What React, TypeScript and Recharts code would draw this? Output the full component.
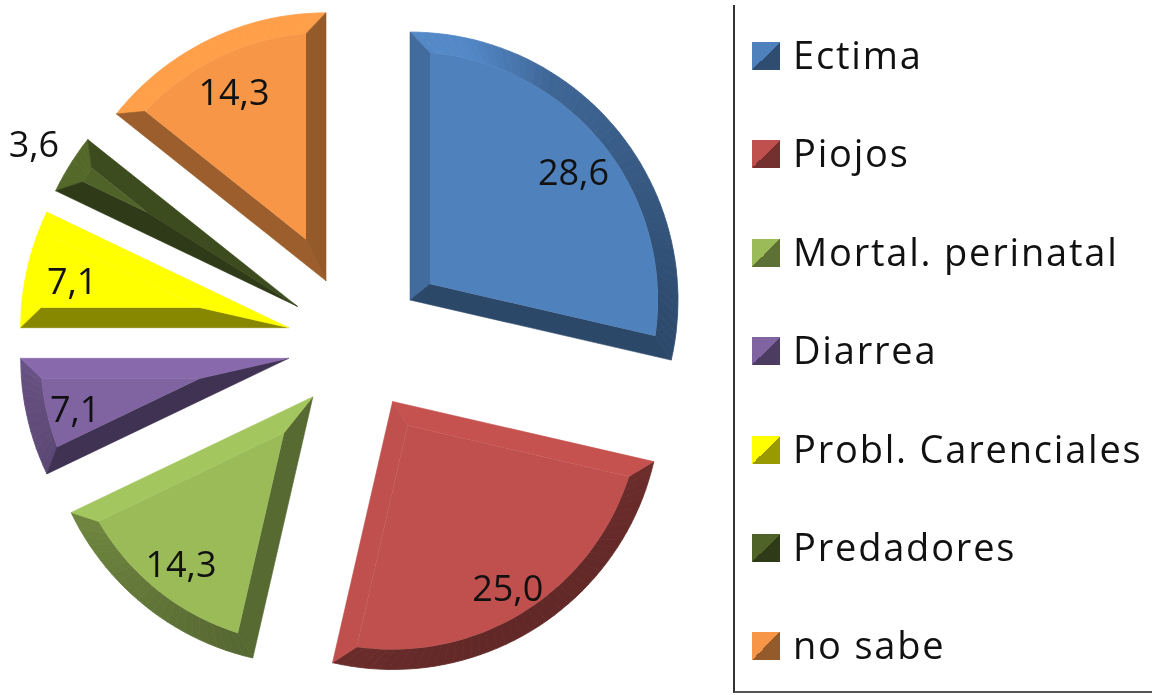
import React from 'react';
import { Legend, Pie, PieChart } from 'recharts';

const categories = ['Ectima', 'Piojos', 'Mortal. perinatal', 'Diarrea', 'Probl. Carenciales', 'Predadores', 'no sabe'];
const values = [28.6, 25.0, 14.3, 7.1, 7.1, 3.6, 14.3];
const colors = ['#4f81bd', '#c0504d', '#9bbb59', '#8064a2', '#ffff00', '#4f6228', '#f79646'];

const data = categories.map((name, i) => ({ name, value: values[i], fill: colors[i] }));

const EXPLODE = 69;
const BEVEL = 20;
// distance of each number from the pie centre
const labelRadius = [278, 286, 280, 288, 291, 380, 281];

const FONT = '"Open Sans", sans-serif';

function shadeColor(hex: string, k: number) {
  const n = parseInt(hex.slice(1), 16);
  const c = [(n >> 16) & 255, (n >> 8) & 255, n & 255].map((v) => Math.min(255, Math.round(v * k)));
  return `rgb(${c[0]},${c[1]},${c[2]})`;
}

// light comes from the top left, so faces turned away from it get darker
function shadeFor(nx: number, ny: number, fill: string) {
  const dot = nx * -0.5 + ny * -0.85;
  let k = 0.7 + dot * 0.2;
  if (dot > 0.45) k = Math.min(1.06, 0.79 + (dot - 0.45) * 0.9);
  // yellow saturates, only the face turned away really darkens
  if (fill === '#ffff00' && k >= 0.75) k = Math.min(1, k + 0.2);
  return k;
}

function polar(x: number, y: number, r: number, deg: number) {
  const a = (deg * Math.PI) / 180;
  return [x + r * Math.cos(a), y - r * Math.sin(a)];
}

function poly(pts: number[][]) {
  return 'M' + pts.map((p) => `${p[0].toFixed(1)},${p[1].toFixed(1)}`).join('L') + 'Z';
}

function BevelSlice(props: any) {
  const { cx, cy, outerRadius: R, startAngle, endAngle, midAngle, fill } = props;
  const [ax, ay] = polar(cx, cy, EXPLODE, midAngle);
  const half = Math.abs(startAngle - endAngle) / 2;
  const inset = BEVEL / Math.sin((half * Math.PI) / 180);
  const [ix, iy] = polar(ax, ay, inset, midAngle);
  const delta = (Math.asin(BEVEL / (R - BEVEL)) * 180) / Math.PI;
  const s = Math.max(startAngle, endAngle);
  const e = Math.min(startAngle, endAngle);
  const outerS = polar(ax, ay, R, s);
  const outerE = polar(ax, ay, R, e);
  const innerS = polar(ax, ay, R - BEVEL, s - delta);
  const innerE = polar(ax, ay, R - BEVEL, e + delta);

  const steps = Math.max(2, Math.ceil((s - e) / 2));
  const arcFaces = [];
  const innerArc: number[][] = [];
  for (let i = 0; i <= steps; i++) {
    innerArc.push(polar(ax, ay, R - BEVEL, s - delta - ((s - e - 2 * delta) * i) / steps));
  }
  for (let i = 0; i < steps; i++) {
    const a0 = s - ((s - e) * i) / steps;
    const a1 = s - ((s - e) * (i + 1)) / steps;
    const mid = (a0 + a1) / 2;
    const [nx, ny] = polar(0, 0, 1, mid);
    const c = shadeColor(fill, shadeFor(nx, ny, fill));
    arcFaces.push(
      <path
        key={i}
        d={poly([polar(ax, ay, R, a0), polar(ax, ay, R, a1), innerArc[i + 1], innerArc[i]])}
        fill={c}
        stroke={c}
        strokeWidth={0.8}
      />
    );
  }

  // outward normals of the two straight edges
  const nS = polar(0, 0, 1, s + 90);
  const nE = polar(0, 0, 1, e - 90);
  const cS = shadeColor(fill, shadeFor(nS[0], nS[1], fill));
  const cE = shadeColor(fill, shadeFor(nE[0], nE[1], fill));

  return (
    <g>
      {arcFaces}
      <path d={poly([[ax, ay], outerS, innerS, [ix, iy]])} fill={cS} stroke={cS} strokeWidth={0.6} />
      <path d={poly([[ax, ay], outerE, innerE, [ix, iy]])} fill={cE} stroke={cE} strokeWidth={0.6} />
      <path d={poly([[ix, iy], ...innerArc])} fill={fill} />
    </g>
  );
}

function renderLabel(props: any) {
  const { cx, cy, midAngle, index, value } = props;
  const [x, y] = polar(cx, cy, labelRadius[index], midAngle);
  return (
    <text x={x} y={y + 2} textAnchor="middle" dominantBaseline="central" fontFamily={FONT} fontSize={36} fill="#111">
      {Number(value).toFixed(1).replace('.', ',')}
    </text>
  );
}

function LegendBox(props: any) {
  return (
    <div style={{ position: 'relative', width: '100%', height: '100%' }}>
      {(props.payload ?? []).map((item: any, i: number) => (
        <div
          key={item.value}
          style={{
            position: 'absolute',
            left: 17,
            top: 51 + i * 98.4 - 25,
            height: 50,
            display: 'flex',
            alignItems: 'center',
            whiteSpace: 'nowrap'
          }}
        >
          <span
            style={{
              width: 28,
              height: 28,
              marginRight: 13,
              background: `linear-gradient(135deg, ${colors[i]} 50%, ${shadeColor(colors[i], 0.6)} 50%)`
            }}
          />
          <span
            style={{
              position: 'relative',
              top: -2,
              fontFamily: FONT,
              fontSize: 38,
              letterSpacing: 1.8,
              color: '#111',
              lineHeight: '50px'
            }}
          >
            {item.value}
          </span>
        </div>
      ))}
    </div>
  );
}

export default function App() {
  return (
    <div style={{ position: 'absolute', left: 0, top: 0, width: 1152, height: 695, overflow: 'hidden', filter: 'blur(0.7px)' }}>
      <PieChart width={1152} height={695} margin={{ top: 0, right: 0, bottom: 0, left: 0 }}>
        <Pie
          data={data}
          dataKey="value"
          nameKey="name"
          cx={356}
          cy={343}
          outerRadius={268}
          startAngle={90}
          endAngle={-270}
          stroke="none"
          shape={BevelSlice}
          label={renderLabel}
          labelLine={false}
          isAnimationActive={false}
        />
        <Legend
          content={<LegendBox />}
          itemSorter={null}
          wrapperStyle={{
            position: 'absolute',
            left: 733,
            top: 5,
            width: 430,
            height: 688,
            boxSizing: 'border-box',
            borderLeft: '2px solid #333',
            borderBottom: '2px solid #555'
          }}
        />
      </PieChart>
    </div>
  );
}
